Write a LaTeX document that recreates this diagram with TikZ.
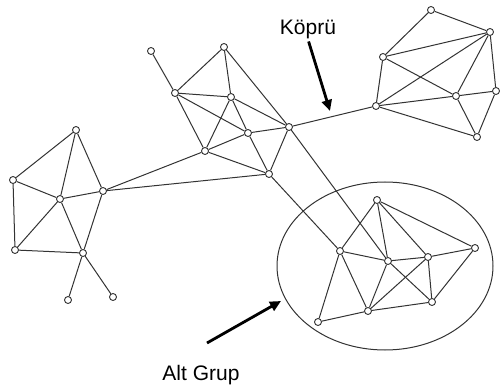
\documentclass[tikz,border=0pt]{standalone}
\usepackage{fontspec}
\setmainfont{Liberation Sans}
\usetikzlibrary{arrows.meta}
\begin{document}
\begin{tikzpicture}[x=1pt,y=-1pt,
  vtx/.style={circle,draw=black!80,fill=white,line width=0.9pt,inner sep=0pt,minimum size=7pt},
  lnk/.style={draw=black!80,line width=1pt},
  lbl/.style={font=\fontsize{21}{25}\selectfont,inner sep=0pt},
  pointer/.style={line width=2.8pt,-{Triangle[length=11pt,width=10pt]}}]
\useasboundingbox (0,0) rectangle (501,390);
% left cluster
\node[vtx] (L1) at (76,130) {};
\node[vtx] (L2) at (13,180) {};
\node[vtx] (L3) at (60,199) {};
\node[vtx] (L4) at (103,191) {};
\node[vtx] (L5) at (15,250) {};
\node[vtx] (L6) at (83,253) {};
\node[vtx] (L7) at (68,300) {};
\node[vtx] (L8) at (113,297) {};
% middle cluster
\node[vtx] (M0) at (151,51) {};
\node[vtx] (M1) at (224,47) {};
\node[vtx] (M2) at (175,93) {};
\node[vtx] (M3) at (231,97) {};
\node[vtx] (M4) at (248,133) {};
\node[vtx] (M5) at (205,151) {};
\node[vtx] (M6) at (289,127) {};
\node[vtx] (M7) at (269,174) {};
% right cluster
\node[vtx] (R1) at (431,10) {};
\node[vtx] (R2) at (490,32) {};
\node[vtx] (R3) at (383,57) {};
\node[vtx] (R4) at (376,106) {};
\node[vtx] (R5) at (456,96) {};
\node[vtx] (R6) at (496,91) {};
\node[vtx] (R7) at (477,137) {};
% sub group
\node[vtx] (A0) at (377,200) {};
\node[vtx] (A1) at (340,251) {};
\node[vtx] (A2) at (388,261) {};
\node[vtx] (A3) at (428,257) {};
\node[vtx] (A4) at (475,248) {};
\node[vtx] (A5) at (318,322) {};
\node[vtx] (A6) at (368,311) {};
\node[vtx] (A7) at (432,302) {};
% edges
\foreach \a/\b in {L1/L2,L1/L3,L1/L4,L2/L3,L2/L5,L3/L4,L3/L5,L3/L6,L4/L6,L5/L6,L6/L7,L6/L8,L4/M5,L4/M7,
  M0/M2,M1/M2,M1/M3,M1/M6,M2/M3,M2/M4,M2/M5,M3/M5,M3/M4,M4/M7,M3/M6,M4/M6,M5/M4,M5/M7,M6/M7,
  M6/R4,M7/A1,M6/A2,
  R1/R2,R1/R3,R2/R3,R3/R4,R3/R5,R4/R2,R4/R5,R4/R7,R2/R5,R2/R6,R5/R6,R5/R7,R6/R7,
  A0/A1,A0/A2,A0/A3,A0/A4,A1/A2,A1/A5,A1/A6,A2/A3,A2/A6,A2/A7,A3/A4,A3/A6,A3/A7,A4/A7,A5/A6,A6/A7}
  \draw[lnk] (\a) -- (\b);
% sub group outline
\draw[lnk] (385,266) ellipse [x radius=108pt, y radius=84pt];
% labels
\node[lbl,anchor=base] (kopru) at (308,35) {Köprü};
\node[lbl,anchor=base] (altgrup) at (201,380) {Alt Grup};
\coordinate (ktip) at (330,111);
\coordinate (agtail) at (207,343);
\coordinate (agtip) at (281,301);
\draw[pointer,shorten <=2pt] (kopru.south) -- (ktip);
\draw[pointer] (agtail) -- (agtip);
\end{tikzpicture}
\end{document}
